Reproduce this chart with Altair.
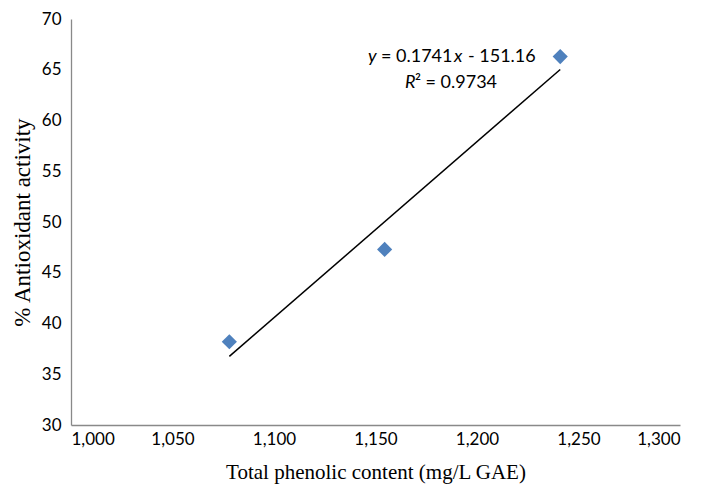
import altair as alt
import pandas as pd

# data
phenolic = [1078, 1154.5, 1241]
antiox = [38.2, 47.3, 66.3]

x_ticks = [1000, 1050, 1100, 1150, 1200, 1250, 1300]
y_ticks = [30, 35, 40, 45, 50, 55, 60, 65, 70]

# equation annotation pieces (text, italic?, anchor x, anchor y, pixel offset)
ann_text = ["y", "= 0.1741", "x", "- 151.16", "R", "² = 0.9734"]
ann_italic = [True, False, True, False, True, False]
ann_x = [1146.3] * 4 + [1164.5] * 2
ann_y = [66.3] * 4 + [63.7] * 2
ann_dx = [0, 13, 86, 100, 0, 10]

df = pd.DataFrame({"x": phenolic, "y": antiox})
ann = pd.DataFrame({"t": ann_text, "it": ann_italic, "x": ann_x, "y": ann_y, "dx": ann_dx})

FONT = "Lato"
xs = alt.Scale(domain=[1000, 1300], nice=False)
ys = alt.Scale(domain=[30, 70], nice=False)

xaxis = alt.Axis(values=x_ticks, format=",d", title="Total phenolic content (mg/L GAE)",
                 grid=False, ticks=False, domainColor="#898989", domainWidth=1.3,
                 labelFont=FONT, labelFontSize=17, labelColor="#000000", labelPadding=6,
                 titleFont="Liberation Serif", titleFontSize=21, titleFontWeight="normal",
                 titleColor="#000000", titlePadding=14)
yaxis = alt.Axis(values=y_ticks, title="% Antioxidant activity",
                 grid=False, ticks=False, domainColor="#898989", domainWidth=1.3,
                 labelFont=FONT, labelFontSize=17, labelColor="#000000", labelPadding=10,
                 titleFont="Liberation Serif", titleFontSize=23, titleFontWeight="normal",
                 titleColor="#000000", titlePadding=7)

pts = alt.Chart(df).mark_point(shape="diamond", filled=True, size=230, color="#4F81BD", opacity=1).encode(
    x=alt.X("x:Q", scale=xs, axis=xaxis),
    y=alt.Y("y:Q", scale=ys, axis=yaxis),
)

trend = alt.Chart(df).transform_regression("x", "y").mark_line(color="#000000", strokeWidth=1.5).encode(
    x=alt.X("x:Q", scale=xs),
    y=alt.Y("y:Q", scale=ys),
)

layers = [pts, trend]
for i in range(len(ann_text)):
    sub = ann.iloc[[i]]
    layers.append(
        alt.Chart(sub).mark_text(
            align="left", baseline="middle", font=FONT, fontSize=18, color="#000000",
            fontStyle="italic" if ann_italic[i] else "normal", dx=int(ann_dx[i]),
        ).encode(x=alt.X("x:Q", scale=xs), y=alt.Y("y:Q", scale=ys), text="t:N")
    )

chart = alt.layer(*layers).properties(
    width=609, height=406,
    autosize=alt.AutoSizeParams(type="none"),
    padding={"left": 63, "top": 11, "right": 20, "bottom": 60},
).configure_view(stroke=None)

chart.save("out.html", embed_options={"renderer": "svg", "actions": False})
